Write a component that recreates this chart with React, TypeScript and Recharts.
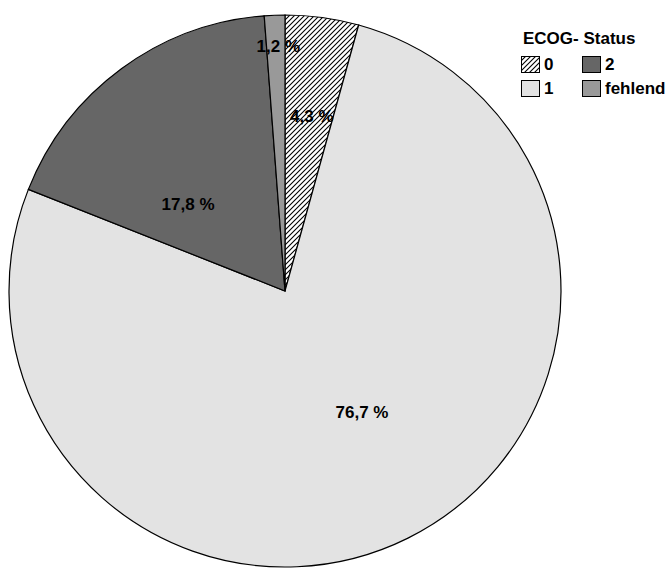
import { Cell, Pie, PieChart } from "recharts";

const categories = ["0", "1", "2", "fehlend"];
const shares = [4.3, 76.7, 17.8, 1.2];
const legendTitle = "ECOG- Status";

const FILLS = ["url(#hatch)", "#e3e3e3", "#666666", "#999999"];
// label placement: fraction of radius and clockwise nudge (deg) from slice middle
const LABEL_R = [0.64, 0.52, 0.47, 0.885];
const LABEL_NUDGE = [1, -6, -12, 0.6];

const FONT = "Arial, 'Liberation Sans', sans-serif";
const RAD = Math.PI / 180;

const data = categories.map((name, i) => ({ name, value: shares[i] }));

const fmt = (v: number) => `${v.toFixed(1).replace(".", ",")} %`;

function renderLabel(props: any) {
  const { cx, cy, midAngle, outerRadius, index } = props;
  const a = (midAngle - LABEL_NUDGE[index]) * RAD;
  const r = outerRadius * LABEL_R[index];
  const x = cx + r * Math.cos(a);
  const y = cy - r * Math.sin(a);
  return (
    <text
      x={x}
      y={y}
      textAnchor="middle"
      dominantBaseline="central"
      fontFamily={FONT}
      fontWeight="bold"
      fontSize={17}
      fill="#000"
    >
      {fmt(shares[index])}
    </text>
  );
}

function Swatch({ i }: { i: number }) {
  return (
    <svg width={19} height={17} style={{ display: "block" }}>
      <defs>
        <pattern id={`hatch-lg-${i}`} patternUnits="userSpaceOnUse" width={5} height={5}>
          <rect width={5} height={5} fill="#fff" />
          <path d="M0,5 L5,0 M-1,1 L1,-1 M4,6 L6,4" stroke="#000" strokeWidth={1.1} />
        </pattern>
      </defs>
      <rect
        x={0.5}
        y={0.5}
        width={18}
        height={16}
        fill={i === 0 ? `url(#hatch-lg-${i})` : FILLS[i]}
        stroke="#000"
        strokeWidth={1}
      />
    </svg>
  );
}

function LegendBox() {
  const order = [0, 2, 1, 3];
  return (
    <div
      style={{
        position: "absolute",
        left: 521,
        top: 29,
        fontFamily: FONT,
        fontWeight: "bold",
        color: "#000",
      }}
    >
      <div style={{ fontSize: 17, lineHeight: "19px", marginLeft: 2, marginBottom: 8 }}>{legendTitle}</div>
      <div style={{ display: "grid", gridTemplateColumns: "61px 90px", rowGap: 7 }}>
        {order.map((i) => (
          <div key={i} style={{ display: "flex", alignItems: "center", gap: 4 }}>
            <Swatch i={i} />
            <span style={{ fontSize: 17, lineHeight: "17px" }}>{categories[i]}</span>
          </div>
        ))}
      </div>
    </div>
  );
}

export default function App() {
  return (
    <div style={{ position: "absolute", left: 0, top: 0, width: 670, height: 572, background: "#fff" }}>
      <PieChart width={670} height={572} margin={{ top: 0, right: 0, bottom: 0, left: 0 }}>
        <defs>
          <pattern id="hatch" patternUnits="userSpaceOnUse" width={5} height={5}>
            <rect width={5} height={5} fill="#fff" />
            <path d="M0,5 L5,0 M-1,1 L1,-1 M4,6 L6,4" stroke="#000" strokeWidth={1.1} />
          </pattern>
        </defs>
        <Pie
          data={data}
          dataKey="value"
          nameKey="name"
          cx={285}
          cy={291}
          outerRadius={276}
          startAngle={90}
          endAngle={-270}
          stroke="#000"
          strokeWidth={1.2}
          label={renderLabel}
          labelLine={false}
          isAnimationActive={false}
        >
          {data.map((d, i) => (
            <Cell key={d.name} fill={FILLS[i]} />
          ))}
        </Pie>
      </PieChart>
      <LegendBox />
    </div>
  );
}
